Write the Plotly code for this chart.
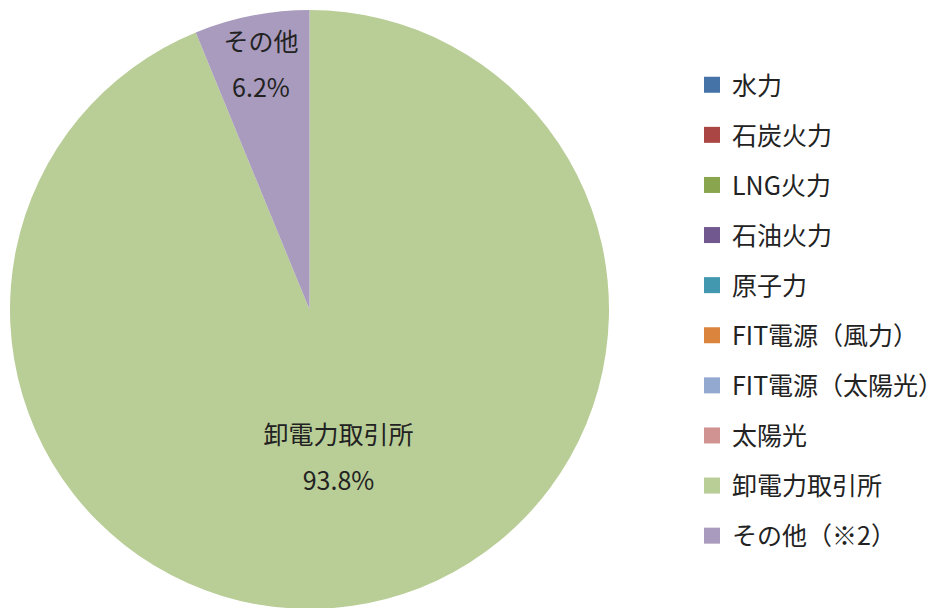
import plotly.graph_objects as go

labels = ["水力", "石炭火力", "LNG火力", "石油火力", "原子力",
          "FIT電源（風力）", "FIT電源（太陽光）", "太陽光", "卸電力取引所", "その他（※2）"]
slice_names = ["水力", "石炭火力", "LNG火力", "石油火力", "原子力",
               "FIT電源（風力）", "FIT電源（太陽光）", "太陽光", "卸電力取引所", "その他"]
values = [0, 0, 0, 0, 0, 0, 0, 0, 93.8, 6.2]
colors = ["#4572A7", "#AA4643", "#89A54E", "#71588F", "#4198AF",
          "#DB843D", "#93A9CF", "#D19392", "#B9CD96", "#A99BBD"]

FONT = "Noto Sans CJK JP"
TXT = "#222222"
W, H = 944, 608
OFF = 8  # page body margin

lbl = "<span style='font-size:25px'>%{customdata}</span><br><span style='font-size:25px'>%{percent:.1%}</span>"

fig = go.Figure()
fig.add_trace(go.Pie(
    labels=labels, values=values, customdata=slice_names,
    sort=False, direction="clockwise", rotation=0,
    marker=dict(colors=colors, line=dict(width=0)),
    texttemplate=["" if v == 0 else lbl for v in values],
    textposition="inside", insidetextorientation="horizontal",
    textfont=dict(family=FONT, size=35.4, color=TXT),
    showlegend=False, hoverinfo="label+percent",
    domain=dict(x=[(10 - OFF) / W, (609 - OFF) / W],
                y=[1 - (609 - OFF) / H, 1 - (10 - OFF) / H]),
))
for lab, col in zip(labels, colors):
    fig.add_trace(go.Scatter(
        x=[None], y=[None], mode="markers", name=lab, legendgroup=lab,
        marker=dict(symbol="square", size=16, color=col, line=dict(width=0)),
        showlegend=True,
    ))

fig.update_layout(
    width=W, height=H,
    margin=dict(l=0, r=0, t=0, b=0),
    paper_bgcolor="white", plot_bgcolor="white",
    font=dict(family=FONT, color=TXT),
    uniformtext=dict(minsize=35.4, mode="show"),
    xaxis=dict(visible=False), yaxis=dict(visible=False),
    legend=dict(x=(692 - OFF) / W, xanchor="left", y=1 - (62 - OFF) / H, yanchor="top",
                font=dict(family=FONT, size=25, color=TXT),
                tracegroupgap=14.6, bgcolor="rgba(0,0,0,0)"),
)
fig.write_html("out.html")
